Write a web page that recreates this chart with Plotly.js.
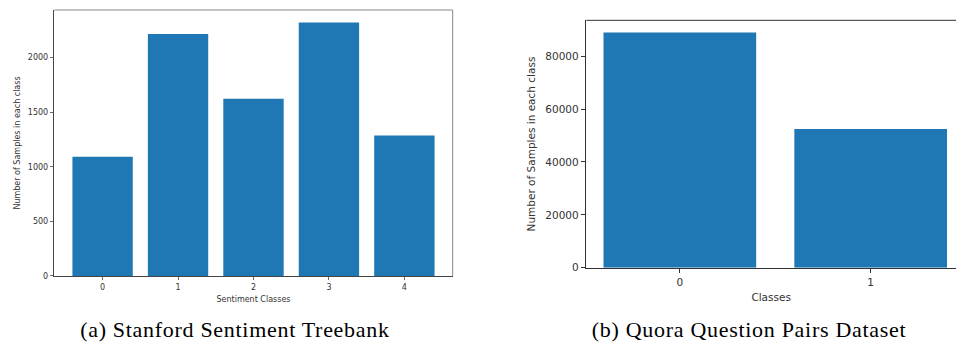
<!DOCTYPE html>
<html>
<head>
<meta charset="utf-8">
<script src="https://cdn.plot.ly/plotly-3.0.1.min.js"></script>
<style>
html,body{margin:0;padding:0;background:#fff;}
#chart{width:956px;height:342px;}
#chart .annotation-text{letter-spacing:0.7px;}
</style>
</head>
<body>
<div id="chart"></div>
<script>
// Data
const sstClasses = [0, 1, 2, 3, 4];
const sstCounts = [1092, 2218, 1624, 2322, 1288];
const sstTicks = [0, 500, 1000, 1500, 2000];
const quoraClasses = [0, 1];
const quoraCounts = [89000, 52500];
const quoraTicks = [0, 20000, 40000, 60000, 80000];
const captionA = "(a) Stanford Sentiment Treebank";
const captionB = "(b) Quora Question Pairs Dataset";

const barColor = "#1f77b4";
const tickFontL = {family: "DejaVu Sans", size: 8, color: "#333"};
const tickFontR = {family: "DejaVu Sans", size: 10.5, color: "#333"};

const traces = [
  {type: "bar", x: sstClasses, y: sstCounts, width: 0.8, marker: {color: barColor, line: {width: 0}}, xaxis: "x", yaxis: "y", hoverinfo: "x+y"},
  {type: "bar", x: quoraClasses, y: quoraCounts, width: 0.8, marker: {color: barColor, line: {width: 0}}, xaxis: "x2", yaxis: "y2", hoverinfo: "x+y"}
];

const layout = {
  width: 956, height: 342,
  margin: {l: 0, r: 0, t: 0, b: 0},
  paper_bgcolor: "#fff", plot_bgcolor: "#fff",
  showlegend: false,
  xaxis: {
    domain: [0.0568, 0.4735], range: [-0.64, 4.64], anchor: "y",
    tickmode: "array", tickvals: sstClasses, ticktext: sstClasses.map(String),
    ticks: "outside", ticklen: 3.5, tickwidth: 0.8, tickcolor: "#444",
    showline: true, linecolor: "#444", linewidth: 1, showgrid: false, zeroline: false,
    tickfont: tickFontL,
    title: {text: "Sentiment Classes", font: {family: "DejaVu Sans", size: 8, color: "#333"}, standoff: 5}
  },
  yaxis: {
    domain: [0.193, 0.9708], range: [0, 2437], anchor: "x",
    tickmode: "array", tickvals: sstTicks, ticktext: sstTicks.map(String),
    ticks: "outside", ticklen: 3.5, tickwidth: 0.8, tickcolor: "#444",
    showline: true, linecolor: "#444", linewidth: 1, showgrid: false, zeroline: false,
    tickfont: tickFontL,
    title: {text: "Number of Samples in each class", font: {family: "DejaVu Sans", size: 8, color: "#333"}, standoff: 6}
  },
  xaxis2: {
    domain: [0.6133, 1], range: [-0.49, 1.447], anchor: "y2",
    tickmode: "array", tickvals: quoraClasses, ticktext: quoraClasses.map(String),
    ticks: "outside", ticklen: 4.5, tickwidth: 1, tickcolor: "#333",
    showline: true, linecolor: "#333", linewidth: 1, showgrid: false, zeroline: false,
    tickfont: tickFontR,
    title: {text: "Classes", font: {family: "DejaVu Sans", size: 10.5, color: "#333"}, standoff: 6}
  },
  yaxis2: {
    domain: [0.2173, 0.9406], range: [0, 93620], anchor: "x2",
    tickmode: "array", tickvals: quoraTicks, ticktext: quoraTicks.map(String),
    ticks: "outside", ticklen: 4.5, tickwidth: 1, tickcolor: "#333",
    showline: true, linecolor: "#333", linewidth: 1, showgrid: false, zeroline: false,
    tickfont: tickFontR,
    title: {text: "Number of Samples in each class", font: {family: "DejaVu Sans", size: 10.5, color: "#333"}, standoff: 7}
  },
  shapes: [
    {type: "line", xref: "x domain", yref: "y domain", x0: 0, x1: 1, y0: 1, y1: 1, line: {color: "#888", width: 1}},
    {type: "line", xref: "x domain", yref: "y domain", x0: 1, x1: 1, y0: 0, y1: 1, line: {color: "#888", width: 1}},
    {type: "line", xref: "x2 domain", yref: "y2 domain", x0: 0, x1: 1, y0: 1, y1: 1, line: {color: "#333", width: 1}}
  ],
  annotations: [
    {text: captionA, xref: "paper", yref: "paper", x: 235/956, y: (342-329)/342, xanchor: "center", yanchor: "middle", showarrow: false,
     font: {family: "Liberation Serif", size: 22, color: "#000"}},
    {text: captionB, xref: "paper", yref: "paper", x: 749/956, y: (342-329)/342, xanchor: "center", yanchor: "middle", showarrow: false,
     font: {family: "Liberation Serif", size: 22, color: "#000"}}
  ]
};

Plotly.newPlot("chart", traces, layout, {staticPlot: true, displayModeBar: false});
</script>
</body>
</html>
